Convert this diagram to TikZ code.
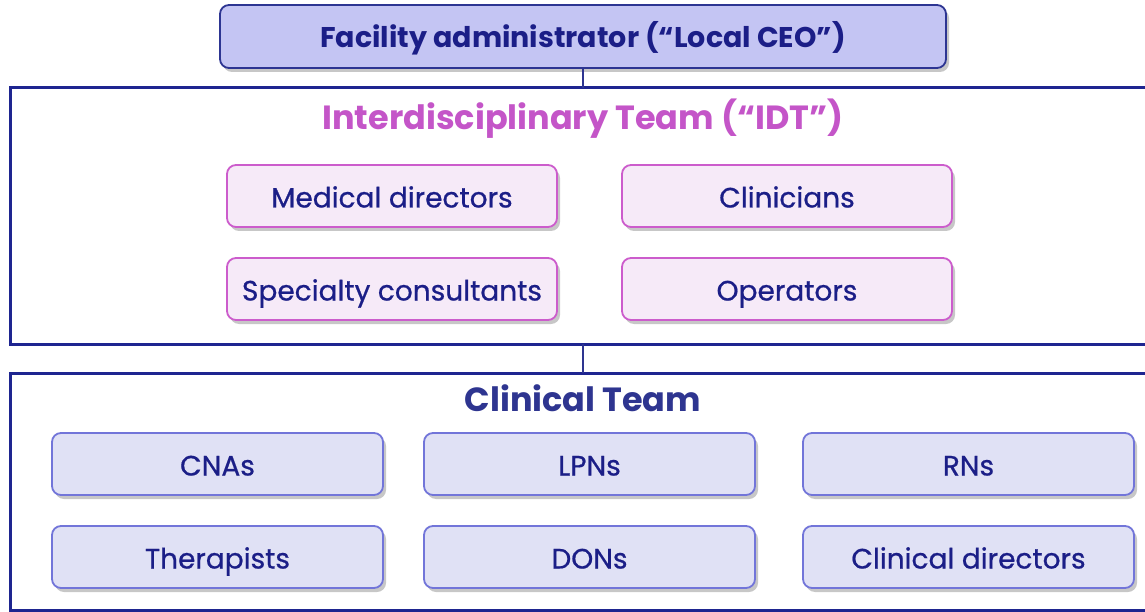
\documentclass[tikz,border=0pt]{standalone}
\usepackage{fontspec}
\setmainfont{Poppins}
\newfontfamily\boxfont{Poppins}[FakeBold=0.7]
\usetikzlibrary{shadows}
\definecolor{navy}{HTML}{1B1E87}
\definecolor{titlenavy}{HTML}{2E3590}
\definecolor{framecol}{HTML}{1E2590}
\definecolor{topfill}{HTML}{C4C5F3}
\definecolor{topborder}{HTML}{2D3592}
\definecolor{magenta}{HTML}{C455C8}
\definecolor{pinkfill}{HTML}{F6EAF8}
\definecolor{pinkborder}{HTML}{CC5CCC}
\definecolor{bluefill}{HTML}{E0E1F5}
\definecolor{blueborder}{HTML}{7275D9}
\tikzset{
  boxshadow/.style={drop shadow={shadow xshift=3pt, shadow yshift=-4pt, fill=black, opacity=0.22}},
  basebox/.style={rectangle, rounded corners=9pt, line width=1.8pt, minimum height=62pt, inner sep=0pt, text height=23pt, text depth=0pt, text=navy, font=\boxfont\fontsize{28}{32}\selectfont, boxshadow},
  topbox/.style={basebox, fill=topfill, draw=topborder, minimum width=726pt, minimum height=63pt, font=\fontsize{28.5}{32}\selectfont\bfseries},
  pinkbox/.style={basebox, fill=pinkfill, draw=pinkborder, minimum width=330pt},
  bluebox/.style={basebox, fill=bluefill, draw=blueborder, minimum width=331pt},
  frame/.style={draw=framecol, line width=3pt},
  title/.style={font=\fontsize{33.5}{38}\selectfont\bfseries},
  link/.style={draw=titlenavy, line width=1.5pt}
}
\begin{document}
\begin{tikzpicture}[x=1pt,y=-1pt]
\useasboundingbox (0,0) rectangle (1145,612);
\clip (0,0) rectangle (1145,612);
\fill[white] (0,0) rectangle (1145,612);
% frames
\draw[frame] (10,88) rectangle (1170,344);
\draw[frame] (10,373) rectangle (1170,610);
\coordinate (idttop) at (583,88);
\coordinate (idtbot) at (583,344);
\coordinate (clintop) at (583,373);
% top box
\node[topbox] (ceo) at (583,36.5) {Facility administrator (“Local CEO”)};
\draw[link] (ceo.south) -- (idttop);
\draw[link] (idtbot) -- (clintop);
% titles
\node[title, text=magenta] (idt) at (583,119) {Interdisciplinary Team (“IDT”)};
\node[title, text=titlenavy] (clin) at (583,398) {Clinical Team};
% pink boxes
\node[pinkbox] (med) at (392,196) {Medical directors};
\node[pinkbox] (clinicians) at (787,196) {Clinicians};
\node[pinkbox] (spec) at (392,289) {Specialty consultants};
\node[pinkbox] (oper) at (787,289) {Operators};
% blue boxes
\node[bluebox] (cna) at (217.5,464) {CNAs};
\node[bluebox] (lpn) at (589.5,464) {LPNs};
\node[bluebox] (rn) at (968.5,464) {RNs};
\node[bluebox] (ther) at (217.5,557) {Therapists};
\node[bluebox] (don) at (589.5,557) {DONs};
\node[bluebox] (cdir) at (968.5,557) {Clinical directors};
\end{tikzpicture}
\end{document}
